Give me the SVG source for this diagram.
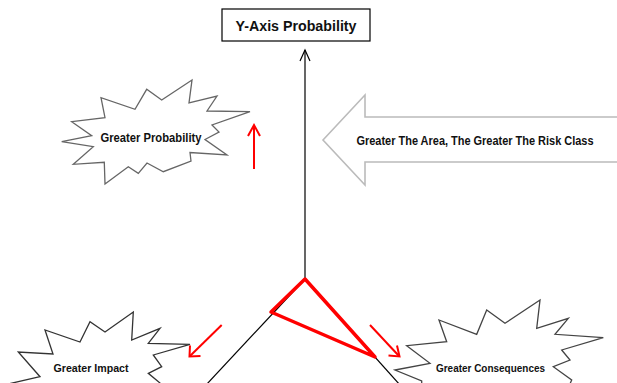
<svg xmlns="http://www.w3.org/2000/svg" width="617" height="383" viewBox="0 0 617 383">
<style>
.lbl{font-family:"Liberation Sans",Arial,sans-serif;font-weight:bold;fill:#111;text-anchor:middle}
.burst{fill:#fff;stroke-width:1.3;stroke-linejoin:miter}
.axis{stroke:#000;stroke-width:1.2;fill:none}
.red{stroke:#ff0000;stroke-width:2;fill:none}
</style>
<rect width="617" height="383" fill="#fff"/>
<g id="connectors">
<line class="axis" x1="305" y1="279" x2="305" y2="50"/>
<polyline class="axis" points="300,61 305,50 310,61"/>
<line class="axis" x1="305" y1="279" x2="206" y2="385"/>
<line class="axis" x1="305" y1="279" x2="400" y2="385"/>
<polygon points="305,279 271,312 375,357" fill="none" stroke="#ff0000" stroke-width="3.5" stroke-linejoin="round"/>
<line class="red" x1="254" y1="169" x2="254" y2="126"/>
<polyline class="red" points="248,136 254,125 260,136"/>
<line class="red" x1="221.7" y1="325" x2="190" y2="356"/>
<polyline class="red" points="190,345.5 189.5,356.5 200.5,356"/>
<line class="red" x1="370" y1="325" x2="399" y2="356"/>
<polyline class="red" points="397,345.5 399.5,356.5 388.5,355.5"/>
</g>
<g id="title">
<rect x="222" y="9" width="148" height="32" fill="#fff" stroke="#000" stroke-width="1.2"/>
<text class="lbl" x="296" y="30.5" font-size="14.5" textLength="121" lengthAdjust="spacingAndGlyphs">Y-Axis Probability</text>
</g>
<g id="greater-probability">
<polygon class="burst" stroke="#666" points="61.7,141.7 91.7,135.7 71.7,121.7 105,117.7 101,97.7 135,109.3 146.7,89.3 161.7,100 192,80 189,103 217,96 207,111 250,111.7 212,125 219,132 205,139.5 227,155 190,152.5 191,161 163.3,171.7 147,163 138.3,173.3 128.3,166.7 105,184 104.3,162.3 73.3,164.3 93.3,146.7"/>
<text class="lbl" x="151" y="141.5" font-size="12" textLength="101" lengthAdjust="spacingAndGlyphs">Greater Probability</text>
</g>
<g id="risk-arrow">
<polygon points="323,140 365,95 365,117 625,117 625,162 365,162 365,185" fill="#fff" stroke="#bbb" stroke-width="1.6"/>
<text class="lbl" x="475" y="145" font-size="12" textLength="237" lengthAdjust="spacingAndGlyphs">Greater The Area, The Greater The Risk Class</text>
</g>
<g id="greater-impact">
<polygon class="burst" stroke="#333" points="6.7,384.3 40,376.7 18.3,352 53,354 45,330 80,342 90,321.7 105,332 133.3,312 131.7,340 160,328.3 148.3,343.3 190,344.3 153.3,355 161.7,366.7 148.3,373.3 160,383 160,395 6.7,395"/>
<text class="lbl" x="91" y="372" font-size="11.5" textLength="75" lengthAdjust="spacingAndGlyphs">Greater Impact</text>
</g>
<g id="greater-consequences">
<polygon class="burst" stroke="#444" points="395,370 430,363.3 406.7,345.7 446.7,341.7 439,320 476.7,334.3 486.7,310 505,323.3 540,300 536.7,328.3 568.3,318.3 555,334.3 603.3,337.7 561.7,350 570,360 553.3,366.7 571.7,380 565,395 421.7,395 421.7,381"/>
<text class="lbl" x="490.5" y="372" font-size="11.5" textLength="109" lengthAdjust="spacingAndGlyphs">Greater Consequences</text>
</g>
</svg>
